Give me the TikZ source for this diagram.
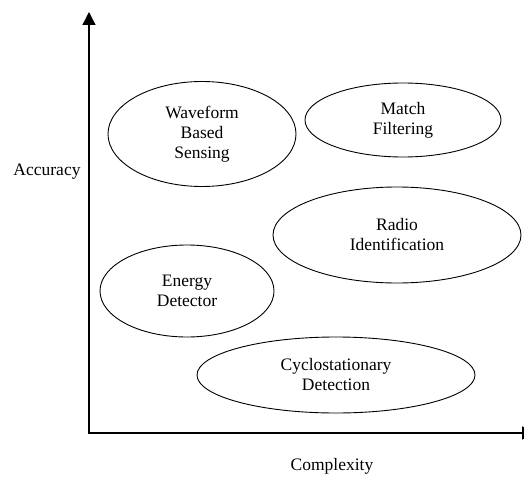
\documentclass[tikz,border=0pt]{standalone}
\usepackage{fontspec}
\setmainfont{Liberation Serif}
\usetikzlibrary{shapes.geometric, arrows.meta}

\begin{document}
\begin{tikzpicture}[x=1pt, y=-1pt,
    font=\rmfamily\fontsize{17.5}{20}\selectfont,
    technique/.style={ellipse, draw, line width=0.9pt, inner sep=0pt, align=center},
    axis/.style={line width=1.3pt, {Triangle[length=13pt, width=13pt]}-{Triangle[length=13pt, width=13pt]}}]

    \useasboundingbox (0,0) rectangle (524,476);

    \coordinate (ytop) at (89,12);
    \coordinate (origin) at (89,433);
    \coordinate (xend) at (535,433);
    \draw[axis] (ytop) -- (origin) -- (xend);

    \node[technique, minimum width=188pt, minimum height=105pt] (waveform) at (202,134) {Waveform\\Based\\Sensing};

    \node[technique, minimum width=196pt, minimum height=74pt] (match) at (403,120) {Match\\Filtering};

    \node[technique, minimum width=248pt, minimum height=96pt] (radio) at (397,235) {Radio\\Identification};

    \node[technique, minimum width=174pt, minimum height=92pt] (energy) at (187,291) {Energy\\Detector};

    \node[technique, minimum width=278pt, minimum height=76pt] (cyclo) at (336,375) {Cyclostationary\\Detection};

    \node (accuracy) at (47,172) {Accuracy};
    \node[anchor=base] (complexity) at (332,470) {Complexity};

\end{tikzpicture}
\end{document}
